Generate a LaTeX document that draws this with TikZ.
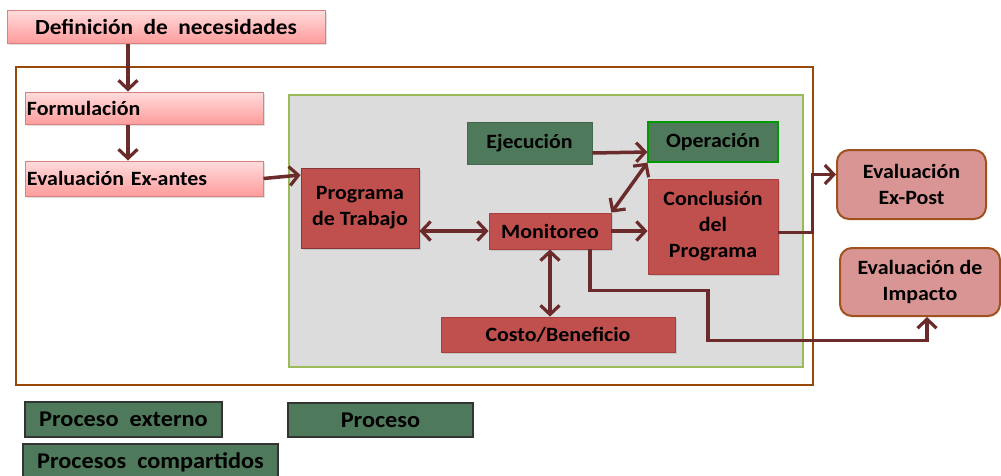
\documentclass[tikz,border=0pt]{standalone}
\usepackage{fontspec}
\setmainfont{Carlito}[FakeStretch=1.08]
\usetikzlibrary{arrows.meta,shadows,calc}
\definecolor{arrowc}{HTML}{6B2B2B}
\definecolor{framec}{HTML}{984807}
\definecolor{grayfill}{HTML}{DCDCDC}
\definecolor{grayline}{HTML}{9BBB59}
\definecolor{redfill}{HTML}{C0504D}
\definecolor{redline}{HTML}{A9403D}
\definecolor{greenfill}{HTML}{4E7A5B}
\definecolor{pinktop}{HTML}{FFDCDC}
\definecolor{pinkbot}{HTML}{FF9C9C}
\definecolor{pinkline}{HTML}{D98080}
\definecolor{evalfill}{HTML}{D99594}
\definecolor{evalline}{HTML}{A0521E}
\tikzset{
  base/.style={inner sep=0pt, font=\fontsize{20.3}{26}\selectfont\bfseries, align=center},
  bigtext/.style={font=\fontsize{22.5}{26}\selectfont\bfseries},
  titletext/.style={font=\fontsize{21.6}{26}\selectfont\bfseries},
  pinkbox/.style={base, draw=pinkline, line width=1pt, top color=pinktop, bottom color=pinkbot, drop shadow={shadow xshift=1.5pt, shadow yshift=-1.5pt, opacity=0.25}},
  redbox/.style={base, fill=redfill, draw=redline, line width=0.8pt, drop shadow={shadow xshift=1.5pt, shadow yshift=-1.5pt, opacity=0.25}},
  greenbox/.style={base, fill=greenfill, draw=greenfill!85!black, line width=0.8pt},
  legbox/.style={base, bigtext, fill=greenfill, draw=black!80, line width=1.5pt},
  evalbox/.style={base, fill=evalfill, draw=evalline, line width=2pt, rounded corners=12pt},
  arr/.style={draw=arrowc, line width=3.5pt, -{Straight Barb[length=9pt,width=19pt,line width=3.2pt]}},
  darr/.style={draw=arrowc, line width=3.5pt, {Straight Barb[length=9pt,width=19pt,line width=3.2pt]}-{Straight Barb[length=9pt,width=19pt,line width=3.2pt]}},
}
\begin{document}
\begin{tikzpicture}[x=1pt,y=-1pt]
\path[use as bounding box] (0,0) rectangle (1001,475);
\clip (0,0) rectangle (1001,475);
\fill[white] (0,0) rectangle (1001,475);

% outer frame and gray area
\draw[framec, line width=2.5pt] (16,67) rectangle (813,385);
\draw[grayline, fill=grayfill, line width=1.2pt] (289,95) rectangle (803,367);

% pink boxes
\node[pinkbox, titletext, minimum width=318pt, minimum height=33pt] (def) at (166,26.5) {Definición\ \ de\ \ necesidades};
\node[pinkbox, minimum width=238pt, minimum height=32pt, text width=234pt, align=left] (form) at (144,108) {Formulación};
\node[pinkbox, minimum width=238pt, minimum height=35pt, text width=234pt, align=left] (evalx) at (144,178.5) {Evaluación Ex-antes};

% inner boxes
\node[redbox, draw=redfill!70!black, minimum width=118pt, minimum height=80pt] (prog) at (360,208) {Programa\\de Trabajo};
\node[greenbox, minimum width=125pt, minimum height=42pt] (ejec) at (529.5,143) {Ejecución};
\node[greenbox, draw=green!60!black, line width=1.2pt, minimum width=130pt, minimum height=40pt] (oper) at (713,142) {Operación};
\node[redbox, minimum width=122pt, minimum height=36pt] (mon) at (550,231) {Monitoreo};
\node[redbox, minimum width=130pt, minimum height=95pt] (concl) at (713,226.5) {Conclusión\\del\\Programa};
\node[redbox, minimum width=234pt, minimum height=35pt] (costo) at (558,334.5) {Costo/Beneficio};

% evaluation boxes
\node[evalbox, minimum width=149pt, minimum height=69pt] (expost) at (911.5,184.5) {Evaluación\\Ex-Post};
\node[evalbox, minimum width=160pt, minimum height=68pt] (impacto) at (920,282) {Evaluación de\\Impacto};

% legend
\node[legbox, minimum width=197pt, minimum height=35pt] (leg1) at (123.5,419.5) {Proceso\ \ externo};
\node[legbox, minimum width=185pt, minimum height=34pt] (leg2) at (380.5,420) {Proceso};
\node[legbox, minimum width=255pt, minimum height=36pt] (leg3) at (150.5,462) {Procesos\ \ compartidos};

% connectors
\draw[arr] ([xshift=-38pt]def.south) -- ([xshift=-16pt]form.north);
\draw[arr] ([xshift=-16pt]form.south) -- ([xshift=-16pt]evalx.north);
\draw[arr] (evalx.east) -- ([yshift=33pt]prog.west);
\draw[darr] (mon.west -| prog.east) -- (mon.west);
\draw[arr] ([yshift=-10pt]ejec.east) -- ([yshift=-10pt]oper.west);
\draw[darr] (mon.north east) -- (oper.south west);
\draw[arr] (mon.east) -- (mon.east -| concl.west);
\draw[darr] (mon.south) -- (mon.south |- costo.north);
\draw[arr] ([xshift=40pt]mon.south) -- ++(0,41) -- ++(118,0) -- ++(0,50) -| ([xshift=7pt]impacto.south);
\draw[arr] ([yshift=-6pt]concl.east) -- ++(34,0) |- ([yshift=10pt]expost.west);
\end{tikzpicture}
\end{document}
